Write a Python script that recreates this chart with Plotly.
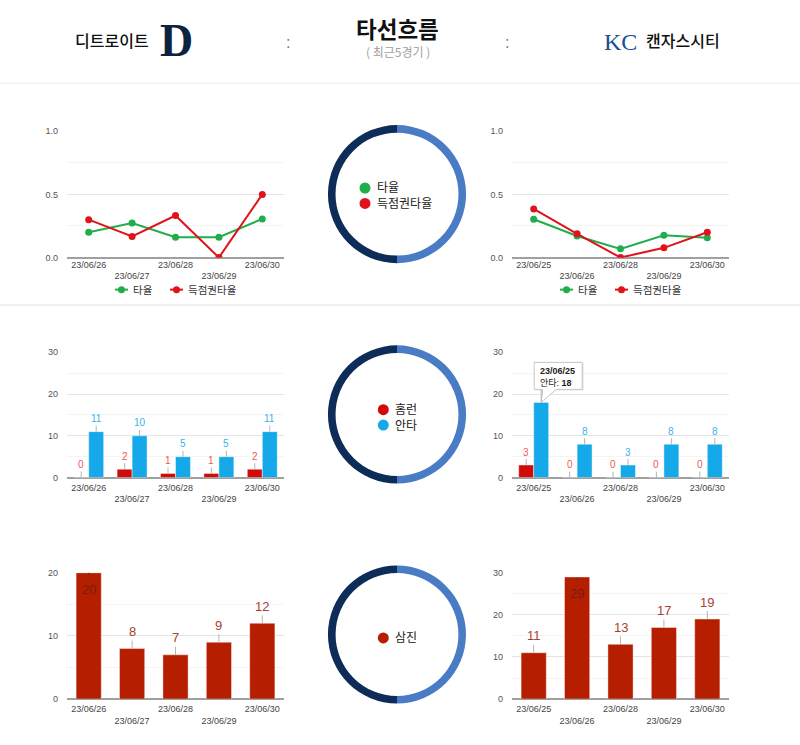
import plotly.graph_objects as go

W, H = 800, 745

# ---------------- data ----------------
home_team = "디트로이트"
away_team = "캔자스시티"
title_text = "타선흐름"
subtitle_text = "( 최근5경기 )"

home_dates = ["23/06/26", "23/06/27", "23/06/28", "23/06/29", "23/06/30"]
away_dates = ["23/06/25", "23/06/26", "23/06/28", "23/06/29", "23/06/30"]

home_avg = [0.200, 0.273, 0.161, 0.161, 0.306]
home_risp = [0.300, 0.167, 0.333, 0.000, 0.500]
away_avg = [0.303, 0.171, 0.069, 0.176, 0.156]
away_risp = [0.385, 0.188, 0.000, 0.077, 0.200]

home_hr = [0, 2, 1, 1, 2]
home_hits = [11, 10, 5, 5, 11]
away_hr = [3, 0, 0, 0, 0]
away_hits = [18, 8, 3, 8, 8]

home_so = [20, 8, 7, 9, 12]
away_so = [11, 29, 13, 17, 19]

avg_name, risp_name = "타율", "득점권타율"
hr_name, hits_name = "홈런", "안타"
so_name = "삼진"
tooltip_index = 0  # away hits bar showing a tooltip

# ---------------- style ----------------
GREEN = "#1fae4b"
RED_LINE = "#e0121b"
HR_RED = "#d10a0a"
HR_LABEL = "#ec5a52"
HIT_BLUE = "#15a9ea"
HIT_LABEL = "#3cb3ef"
SO_RED = "#b51f00"
SO_LABEL = "#a8412f"
SO_LABEL_IN = "#7a1a0c"
NAVY = "#0d2c57"
LIGHT_BLUE = "#4a7bc5"
FONT = "Arial, 'Liberation Sans', 'Noto Sans CJK KR', sans-serif"
KFONT = "'Noto Sans CJK KR', sans-serif"


def px(x):
    return x / W


def py(y):
    return 1 - y / H


LEFT_DOM = [px(67), px(284)]
RIGHT_DOM = [px(512), px(729)]
ROW_DOM = [[py(256), py(128)], [py(479), py(352)], [py(703.5), py(575.5)]]
idx = list(range(5))


def stagger(labels):
    return [l if i % 2 == 0 else "<br>" + l for i, l in enumerate(labels)]


fig = go.Figure()
layout = dict(
    width=W, height=H, margin=dict(l=0, r=0, t=0, b=0),
    paper_bgcolor="white", plot_bgcolor="white",
    showlegend=False, hovermode=False,
    font=dict(family=FONT, size=9, color="#444"),
)

annotations = []
shapes = []

charts = [
    (1, LEFT_DOM, 0, home_dates, 1.0, 0.5, ".1f"),
    (2, RIGHT_DOM, 0, away_dates, 1.0, 0.5, ".1f"),
    (3, LEFT_DOM, 1, home_dates, 30, 10, "d"),
    (4, RIGHT_DOM, 1, away_dates, 30, 10, "d"),
    (5, LEFT_DOM, 2, home_dates, 20, 10, "d"),
    (6, RIGHT_DOM, 2, away_dates, 30, 10, "d"),
]

for n, xd, row, dates, ymax, dt, fmt in charts:
    xa = "xaxis" if n == 1 else f"xaxis{n}"
    ya = "yaxis" if n == 1 else f"yaxis{n}"
    layout[xa] = dict(
        domain=xd, anchor=f"y{'' if n == 1 else n}", range=[-0.5, 4.5],
        tickvals=idx, ticktext=stagger(dates), showgrid=False, zeroline=False,
        showline=False, ticks="", tickfont=dict(size=9, color="#444"),
        ticklabelstandoff=0 if row == 0 else 3, fixedrange=True,
    )
    layout[ya] = dict(
        domain=ROW_DOM[row], anchor=f"x{'' if n == 1 else n}", range=[0, ymax],
        dtick=dt, tick0=0, tickformat=fmt, showgrid=True, gridcolor="#e4e4e4",
        gridwidth=1,
        minor=dict(dtick=dt / 2, tick0=0, showgrid=True, gridcolor="#f4f4f4"),
        zeroline=True, zerolinecolor="#a0a0a0", zerolinewidth=1.5,
        showline=False, ticks="", tickfont=dict(size=9, color="#555"),
        ticklabelstandoff=8, fixedrange=True,
    )


def ax(n):
    return ("x" if n == 1 else f"x{n}"), ("y" if n == 1 else f"y{n}")


# ---------------- row 1: line charts ----------------
for n, avg, risp in [(1, home_avg, home_risp), (2, away_avg, away_risp)]:
    xr, yr = ax(n)
    fig.add_trace(go.Scatter(x=idx, y=avg, mode="lines+markers", name=avg_name,
                             line=dict(color=GREEN, width=2),
                             marker=dict(color=GREEN, size=7), xaxis=xr, yaxis=yr))
    fig.add_trace(go.Scatter(x=idx, y=risp, mode="lines+markers", name=risp_name,
                             line=dict(color=RED_LINE, width=2),
                             marker=dict(color=RED_LINE, size=7), xaxis=xr, yaxis=yr))

for x0 in (67, 512):
    for dx, col, name in [(48, GREEN, avg_name), (103, RED_LINE, risp_name)]:
        lx = x0 + dx
        shapes.append(dict(type="line", xref="paper", yref="paper",
                           x0=px(lx), x1=px(lx + 13), y0=py(288.5), y1=py(288.5),
                           line=dict(color=col, width=2)))
        shapes.append(dict(type="circle", xref="paper", yref="paper",
                           xsizemode="pixel", ysizemode="pixel",
                           xanchor=px(lx + 6.5), yanchor=py(288.5),
                           x0=-3.5, x1=3.5, y0=-3.5, y1=3.5,
                           fillcolor=col, line=dict(width=0)))
        annotations.append(dict(x=px(lx + 16), y=py(288), xref="paper", yref="paper",
                                text=name, showarrow=False, xanchor="left",
                                yanchor="middle",
                                font=dict(family=KFONT, size=10.5, color="#333")))

# ---------------- row 2: HR / hits ----------------
BW2 = 0.345
for n, hr, hits in [(3, home_hr, home_hits), (4, away_hr, away_hits)]:
    xr, yr = ax(n)
    fig.add_trace(go.Bar(x=idx, y=hr, name=hr_name, width=BW2, offset=-BW2,
                         marker=dict(color=HR_RED, line=dict(color="rgba(255,255,255,0.4)", width=1)),
                         xaxis=xr, yaxis=yr))
    fig.add_trace(go.Bar(x=idx, y=hits, name=hits_name, width=BW2, offset=0,
                         marker=dict(color=HIT_BLUE, line=dict(color="rgba(255,255,255,0.45)", width=1)),
                         xaxis=xr, yaxis=yr))
    for i in idx:
        for vals, dx, col, is_hits in [(hr, -BW2 / 2, HR_LABEL, False),
                                       (hits, BW2 / 2, HIT_LABEL, True)]:
            if n == 4 and is_hits and i == tooltip_index:
                continue  # hidden behind the tooltip
            annotations.append(dict(x=i + dx, y=vals[i], xref=xr, yref=yr,
                                    text=str(vals[i]), showarrow=True, arrowhead=0,
                                    arrowwidth=1, arrowcolor="#b5b5b5", ax=0, ay=-13,
                                    font=dict(size=10, color=col)))

tip_x, tip_y = tooltip_index + BW2 / 2, away_hits[tooltip_index]
shapes.append(dict(type="path", xref="x4", yref="y4", xsizemode="pixel",
                   ysizemode="pixel", xanchor=tip_x, yanchor=tip_y,
                   path="M -5.5,12 L 42.5,12 L 42.5,39 L -5.5,39 Z",
                   fillcolor="rgba(0,0,0,0.10)", line=dict(width=0), layer="above"))
shapes.append(dict(type="path", xref="x4", yref="y4", xsizemode="pixel",
                   ysizemode="pixel", xanchor=tip_x, yanchor=tip_y,
                   path="M -7,13 L 1.5,13 L 0,0 L 15,13 L 41,13 L 41,40 L -7,40 Z",
                   fillcolor="white", line=dict(color="#c4c4c4", width=1),
                   layer="above"))
shapes.append(dict(type="line", xref="x4", yref="y4", xsizemode="pixel",
                   ysizemode="pixel", xanchor=tip_x, yanchor=tip_y,
                   x0=0, x1=0, y0=0, y1=12.5,
                   line=dict(color="#b5b5b5", width=1), layer="above"))
annotations.append(dict(x=tip_x, y=tip_y, xref="x4", yref="y4",
                        text=f"<b>{away_dates[tooltip_index]}</b><br>{hits_name}: <b>{away_hits[tooltip_index]}</b>",
                        showarrow=False, xanchor="left", yanchor="top", align="left",
                        xshift=-3, yshift=38,
                        font=dict(family=FONT, size=9, color="#222")))

# ---------------- row 3: strikeouts ----------------
BW3 = 0.58
for n, so, ymax in [(5, home_so, 20), (6, away_so, 30)]:
    xr, yr = ax(n)
    fig.add_trace(go.Bar(x=idx, y=so, name=so_name, width=BW3,
                         marker=dict(color=SO_RED, line=dict(color="rgba(255,255,255,0.4)", width=1)),
                         xaxis=xr, yaxis=yr))
    for i in idx:
        inside = so[i] / ymax > 0.9
        annotations.append(dict(x=i, y=so[i], xref=xr, yref=yr, text=str(so[i]),
                                showarrow=True, arrowhead=0, arrowwidth=1,
                                arrowcolor="#b5b5b5" if not inside else "#8a2a1a",
                                ax=0, ay=17 if inside else -17,
                                font=dict(size=13, color=SO_LABEL_IN if inside else SO_LABEL)))

# ---------------- donut rings ----------------
for cy in (191.7, 415, 638):
    fig.add_trace(go.Pie(values=[1, 1], labels=["r", "l"], sort=False,
                         direction="clockwise", hole=0.89, textinfo="none",
                         marker=dict(colors=[LIGHT_BLUE, NAVY], line=dict(width=0)),
                         domain=dict(x=[px(327), px(467)], y=[py(cy + 70), py(cy - 70)]),
                         showlegend=False, hoverinfo="skip"))

# legends inside the rings: (dot x, centre y, line gap, [(colour, name), ...])
donut_legends = [
    (365, 193.3, 15.6, [(GREEN, avg_name), (RED_LINE, risp_name)]),
    (383.3, 418, 15.6, [(HR_RED, hr_name), (HIT_BLUE, hits_name)]),
    (383.3, 641.5, 15.6, [(SO_RED, so_name)]),
]
for cx, cyc, gap, items in donut_legends:
    k = len(items)
    for j, (col, name) in enumerate(items):
        cy = cyc + (j - (k - 1) / 2) * gap
        shapes.append(dict(type="circle", xref="paper", yref="paper",
                           xsizemode="pixel", ysizemode="pixel",
                           xanchor=px(cx), yanchor=py(cy),
                           x0=-5.5, x1=5.5, y0=-5.5, y1=5.5,
                           fillcolor=col, line=dict(width=0)))
    annotations.append(dict(x=px(cx + 10), y=py(cyc - 1), xref="paper", yref="paper",
                            text="<br>".join(name for _, name in items),
                            showarrow=False, xanchor="left", yanchor="middle",
                            align="left",
                            font=dict(family=KFONT, size=12, color="#222")))

# ---------------- header ----------------
shapes.append(dict(type="line", xref="paper", yref="paper", x0=0, x1=1,
                   y0=py(79.5), y1=py(79.5), line=dict(color="#ececec", width=1)))
shapes.append(dict(type="line", xref="paper", yref="paper", x0=0, x1=1,
                   y0=py(304), y1=py(304), line=dict(color="#f0f0f0", width=2)))

header = [
    (112, 35, home_team, dict(family=KFONT, size=16, color="#111", weight=500)),
    (176, 36, "D", dict(family="'Liberation Serif', serif", size=46, color="#0c2340", weight=700)),
    (288, 38, ":", dict(family=FONT, size=16, color="#777")),
    (507, 38, ":", dict(family=FONT, size=16, color="#777")),
    (397, 23, title_text, dict(family=KFONT, size=22.5, color="#111", weight=700)),
    (398, 47, subtitle_text, dict(family=KFONT, size=12, color="#a0a0a0")),
    (620, 37, "KC", dict(family="'Liberation Serif', serif", size=24, color="#1b4f93")),
    (683, 35, away_team, dict(family=KFONT, size=16, color="#111", weight=500)),
]
for hx, hy, txt, fnt in header:
    annotations.append(dict(x=px(hx), y=py(hy), xref="paper", yref="paper", text=txt,
                            showarrow=False, xanchor="center", yanchor="middle", font=fnt))

layout["annotations"] = annotations
layout["shapes"] = shapes
fig.update_layout(**layout)
fig.write_html("out.html")
